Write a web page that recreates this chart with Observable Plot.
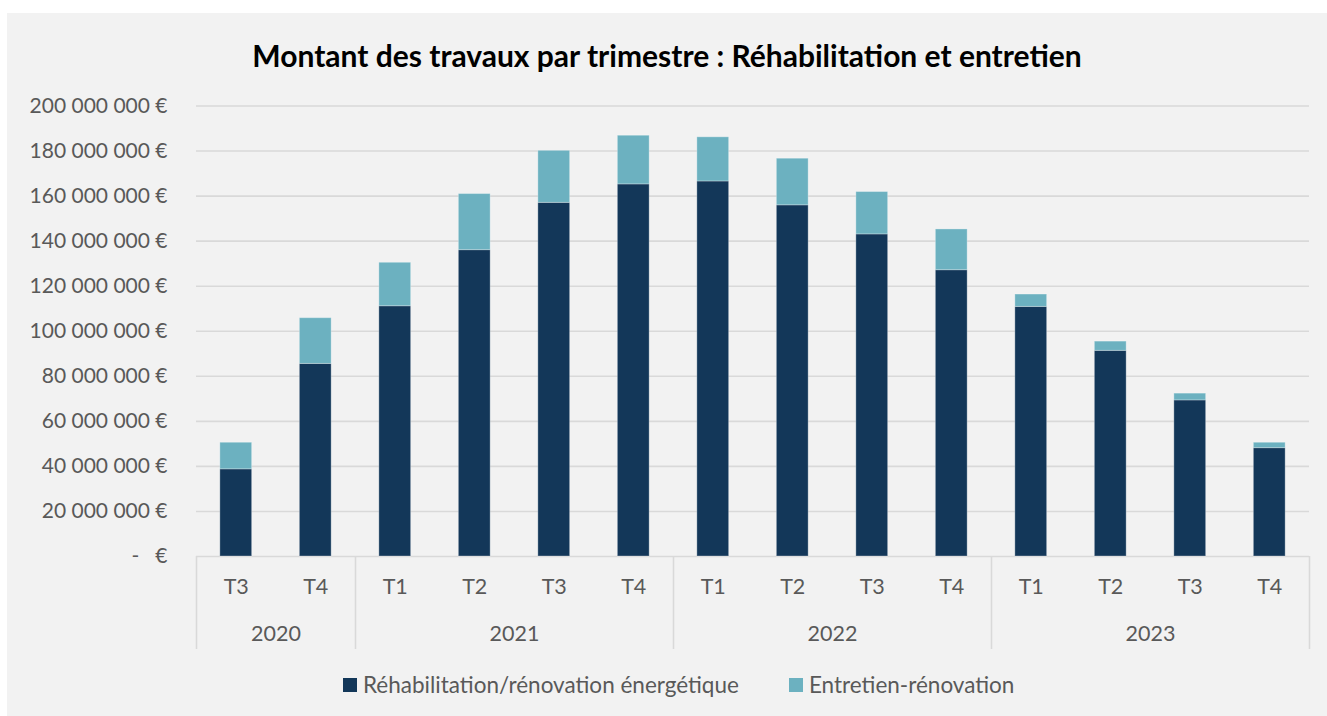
<!DOCTYPE html>
<html><head><meta charset="utf-8">
<script src="https://cdn.jsdelivr.net/npm/d3@7"></script>
<script src="https://cdn.jsdelivr.net/npm/@observablehq/plot@0.6"></script>
<style>
body{margin:0;background:#fff;font-family:Lato,"Noto Sans",sans-serif;}
#panel{position:absolute;left:7px;top:13px;width:1320px;height:703px;background:#f2f2f2;overflow:hidden;}
#title{position:absolute;left:0;width:1320px;top:24px;line-height:36px;text-align:center;font-weight:bold;font-size:30px;color:#000;}
#chart{position:absolute;left:0;top:60px;}
#legend{position:absolute;top:660px;left:336px;display:flex;align-items:center;font-size:22.5px;color:#595959;line-height:24px;}
.item{display:flex;align-items:center;}
.sw{width:14px;height:14px;margin-right:6px;}
</style></head>
<body>
<div id="panel">
  <div id="title"></div>
  <div id="chart"></div>
  <div id="legend"></div>
</div>
<script>
const title = "Montant des travaux par trimestre : Réhabilitation et entretien";
const years = ["2020","2020","2021","2021","2021","2021","2022","2022","2022","2022","2023","2023","2023","2023"];
const quarters = ["T3","T4","T1","T2","T3","T4","T1","T2","T3","T4","T1","T2","T3","T4"];
const series = ["Réhabilitation/rénovation énergétique","Entretien-rénovation"];
const rehab = [38700000,85500000,111100000,136000000,157000000,165200000,166500000,155900000,143000000,127100000,110800000,91300000,69300000,48100000];
const entretien = [11800000,20300000,19300000,24900000,23100000,21600000,19600000,20700000,18800000,18100000,5500000,4100000,3000000,2400000];
const yTicks = [0,20000000,40000000,60000000,80000000,100000000,120000000,140000000,160000000,180000000,200000000];
const colors = ["#133759","#6cb1c0"];

document.getElementById("title").textContent = title;

const rows = [];
quarters.forEach((q,i)=>{
  rows.push({i, serie:series[0], y1:0, y2:rehab[i]});
  rows.push({i, serie:series[1], y1:rehab[i], y2:rehab[i]+entretien[i]});
});
const yearNames = Array.from(new Set(years));
const yearGroups = yearNames.map(y=>{
  const idx = years.map((v,i)=>v===y?i:-1).filter(i=>i>=0);
  return {year:y, mid:(idx[0]+idx[idx.length-1])/2, start:idx[0]-0.5, end:idx[idx.length-1]+0.5};
});
const bounds = [yearGroups[0].start, ...yearGroups.map(g=>g.end)];

const loc = d3.formatLocale({decimal:",", thousands:"\u00a0", grouping:[3], currency:["","\u00a0€"]});
const f = loc.format(",");
const fmt = d => d === 0 ? "-\u00a0\u00a0\u00a0€" : f(d) + "\u00a0€";

const W=1320, H=590, mt=32.5, mb=107, ml=189, mr=18;
const innerH = H - mt - mb;
const half = 0.2;

const chart = Plot.plot({
  width:W, height:H, marginTop:mt, marginBottom:mb, marginLeft:ml, marginRight:mr,
  style:{background:"transparent", fontFamily:"Lato, 'Noto Sans', sans-serif", fontSize:"21px", color:"#595959"},
  x:{domain:[-0.5, quarters.length-0.5], axis:null},
  y:{domain:[0,200000000], axis:null},
  color:{domain:series, range:colors},
  marks:[
    Plot.ruleY(yTicks, {stroke:"#d9d9d9", strokeWidth:1.6}),
    Plot.ruleX(bounds, {x:d=>d, stroke:"#d9d9d9", strokeWidth:1.6, insetTop:innerH, insetBottom:-93}),
    Plot.rect(rows, {x1:d=>d.i-half, x2:d=>d.i+half, y1:"y1", y2:"y2", fill:"serie", stroke:"#ffffff", strokeOpacity:0.3, strokeWidth:1}),
    Plot.axisY(yTicks, {tickSize:0, tickPadding:29, tickFormat:fmt, fill:"#595959", fontSize:21}),
    Plot.text(quarters, {x:(d,i)=>i, text:d=>d, frameAnchor:"bottom", dy:37, fill:"#595959", fontSize:21.5}),
    Plot.text(yearGroups, {x:"mid", text:"year", frameAnchor:"bottom", dy:84, fill:"#595959", fontSize:21.5})
  ]
});
document.getElementById("chart").appendChild(chart);

const legend = document.getElementById("legend");
series.forEach((s,k)=>{
  const it = document.createElement("div");
  it.className = "item";
  if (k>0) it.style.marginLeft = "50px";
  const sw = document.createElement("div");
  sw.className = "sw"; sw.style.background = colors[k];
  const t = document.createElement("span"); t.textContent = s;
  it.appendChild(sw); it.appendChild(t);
  legend.appendChild(it);
});
</script>
</body></html>
